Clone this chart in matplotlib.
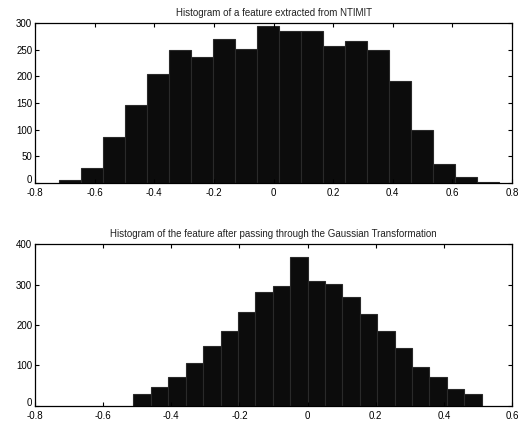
import numpy as np
import matplotlib
matplotlib.use("Agg")
import matplotlib.pyplot as plt

plt.rcParams['font.family'] = ['Liberation Sans', 'DejaVu Sans']
plt.rcParams['font.size'] = 7

# histogram of the raw feature (20 bins)
raw_edges = np.linspace(-0.719, 0.755, 21)
raw_counts = [5, 29, 86, 146, 204, 250, 236, 270, 252, 294,
              285, 285, 257, 267, 250, 191, 99, 36, 11, 2]

# histogram after the Gaussian transformation (20 bins)
gauss_edges = np.linspace(-0.511, 0.511, 21)
gauss_counts = [28, 46, 71, 107, 148, 186, 232, 282, 297, 369,
                309, 302, 269, 228, 186, 144, 97, 72, 42, 28]

top_xticks = [-0.8, -0.6, -0.4, -0.2, 0, 0.2, 0.4, 0.6, 0.8]
top_yticks = [0, 50, 100, 150, 200, 250, 300]
bot_xticks = [-0.8, -0.6, -0.4, -0.2, 0, 0.2, 0.4, 0.6]
bot_yticks = [0, 100, 200, 300, 400]


def fmt(v):
    return "0" if v == 0 else f"{v:g}"


def draw(ax, edges, counts, title, xlim, ylim, xticks, yticks):
    ax.bar(edges[:-1], counts, width=np.diff(edges), align='edge',
           facecolor='#0c0c0c', edgecolor='#2a2a2a', linewidth=0.8)
    ax.set_xlim(*xlim)
    ax.set_ylim(*ylim)
    ax.set_xticks(xticks)
    ax.set_xticklabels([fmt(v) for v in xticks])
    ax.set_yticks(yticks)
    ax.set_yticklabels([fmt(v) for v in yticks])
    ax.tick_params(direction='in', top=True, right=True, length=3,
                   width=0.8, labelsize=7)
    ax.tick_params(axis='x', pad=3.6)
    ax.tick_params(axis='y', pad=2)
    # nudge the "0" y label up a touch so it clears the "-0.8" x label
    ax.get_yticklabels()[0].set_verticalalignment('baseline')
    for s in ax.spines.values():
        s.set_linewidth(0.9)
    ax.set_title(title, fontsize=7, pad=5, color='#222222')


fig = plt.figure(figsize=(5.28, 4.24), dpi=100)
ax1 = fig.add_axes([0.0663, 0.5684, 0.9034, 0.3774])
ax2 = fig.add_axes([0.0663, 0.0432, 0.9034, 0.3806])

draw(ax1, raw_edges, raw_counts, "Histogram of a feature extracted from NTIMIT",
     (-0.8, 0.8), (0, 300), top_xticks, top_yticks)
draw(ax2, gauss_edges, gauss_counts,
     "Histogram of the feature after passing through the Gaussian Transformation",
     (-0.8, 0.6), (0, 400), bot_xticks, bot_yticks)

fig.savefig("out.png", dpi=100)
